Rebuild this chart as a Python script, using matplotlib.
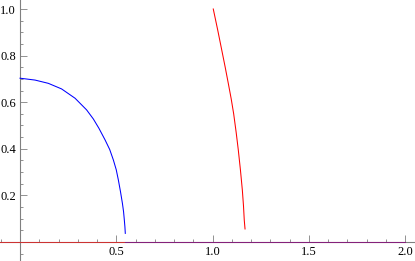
import numpy as np
import matplotlib.pyplot as plt
from matplotlib.ticker import MultipleLocator

# blue curve
blue_x = [0.0, 0.078, 0.147, 0.216, 0.286, 0.346, 0.381, 0.410, 0.442, 0.466, 0.485,
          0.500, 0.511, 0.522, 0.532, 0.538, 0.542, 0.545, 0.547]
blue_y = [0.703, 0.695, 0.681, 0.657, 0.617, 0.567, 0.528, 0.488, 0.438, 0.397, 0.352,
          0.310, 0.266, 0.216, 0.166, 0.130, 0.094, 0.065, 0.037]

# red curve
red_x = [1.004, 1.027, 1.048, 1.066, 1.082, 1.097, 1.110, 1.123, 1.134, 1.145, 1.155, 1.161, 1.165, 1.169]
red_y = [1.0, 0.91, 0.824, 0.75, 0.681, 0.615, 0.55, 0.47, 0.395, 0.31, 0.223, 0.155, 0.094, 0.056]

x_major = [0.5, 1.0, 1.5, 2.0]
y_major = [0.2, 0.4, 0.6, 0.8, 1.0]

plt.rcParams['font.family'] = ['Liberation Serif', 'DejaVu Serif']

fig = plt.figure(figsize=(4.15, 2.61), dpi=100)
ax = fig.add_axes([0, 0, 1, 1])
ax.set_xlim(-20 / 192.5, 395 / 192.5)
ax.set_ylim(-19 / 233, 242 / 233)

# lines on the axis
ax.plot([-0.11, 2.0], [0, 0], color='red', lw=0.75, alpha=0.6, zorder=3)
ax.plot([0.547, 2.0], [0, 0], color='blue', lw=0.75, alpha=0.35, zorder=3)

ax.plot(blue_x, blue_y, color='blue', lw=0.75, zorder=4, solid_joinstyle='round')
ax.plot(red_x, red_y, color='red', lw=0.75, zorder=4, solid_joinstyle='round')

for s in ['top', 'right']:
    ax.spines[s].set_visible(False)
ax.spines['left'].set_position(('data', 0))
ax.spines['bottom'].set_position(('data', 0))
for s in ['left', 'bottom']:
    ax.spines[s].set_color('#808080')
    ax.spines[s].set_linewidth(0.8)

ax.set_xticks(x_major)
ax.set_xticklabels(['%.1f' % v for v in x_major])
ax.set_yticks(y_major)
ax.set_yticklabels(['%.1f' % v for v in y_major])
ax.xaxis.set_minor_locator(MultipleLocator(0.1))
ax.yaxis.set_minor_locator(MultipleLocator(0.05))
ax.tick_params(which='major', direction='in', length=5, width=0.6, color='#808080',
               labelsize=9, pad=3)
ax.tick_params(which='minor', direction='in', length=2.5, width=0.6, color='#808080')
ax.set_facecolor('white')

plt.savefig('out.png', dpi=100)
